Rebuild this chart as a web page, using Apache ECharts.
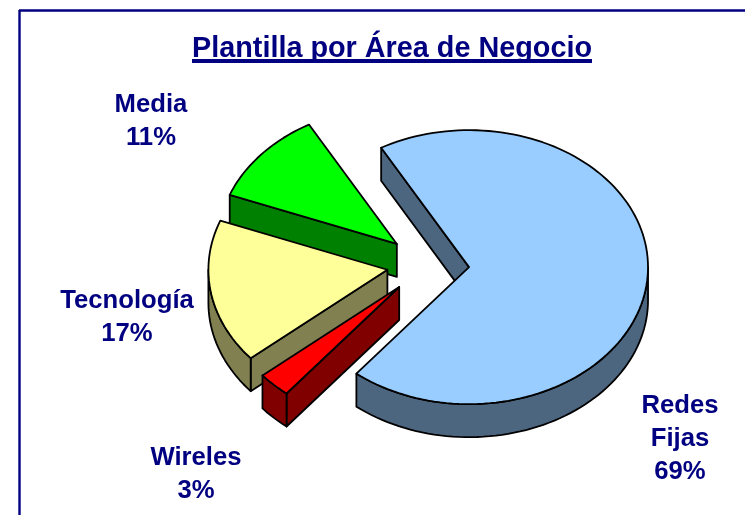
<!DOCTYPE html>
<html><head><meta charset="utf-8">
<style>html,body{margin:0;padding:0;background:#fff}#c{width:745px;height:515px}</style>
<script src="https://cdn.jsdelivr.net/npm/echarts@6/dist/echarts.min.js"></script>
</head><body><div id="c"></div>
<script>
const titleText = 'Plantilla por Área de Negocio';
const categories = ['Redes Fijas', 'Wireles', 'Tecnología', 'Media'];
const values = [69, 3, 17, 11];
const labelLines = [['Redes', 'Fijas', '69%'], ['Wireles', '3%'], ['Tecnología', '17%'], ['Media', '11%']];
const topColors = ['#99CCFF', '#FF0000', '#FFFF99', '#00FF00'];
const sideColors = ['#4D6680', '#800000', '#808050', '#008000'];
const labelAnchors = [[680, 406], [196, 458], [127, 301], [151, 105]];

const NAVY = '#000080';
const FONT = '"Liberation Sans", Arial, sans-serif';
const CX = 428, CY = 264.5, RX = 179, RY = 137, DEPTH = 33, EXPLODE = 0.23, START = -29.4;
const total = values.reduce((a, b) => a + b, 0);
let acc = START;
const slices = values.map((v, i) => {
  const a0 = acc, a1 = acc + v / total * 360; acc = a1;
  return { i, a0, a1 };
});
const rad = d => d * Math.PI / 180;
const rimPt = (o, a, dy) => [o[0] + RX * Math.sin(rad(a)), o[1] - RY * Math.cos(rad(a)) + (dy || 0)];
function arcPts(o, a0, a1, dy) {
  const n = Math.max(2, Math.ceil((a1 - a0) / 2)), pts = [];
  for (let k = 0; k <= n; k++) pts.push(rimPt(o, a0 + (a1 - a0) * k / n, dy));
  return pts;
}
function poly(points, fill) {
  return { type: 'polygon', shape: { points }, style: { fill, stroke: '#000', lineWidth: 1.8, lineJoin: 'round' } };
}
// Back-to-front: Media, Tecnología, Wireles, Redes Fijas
const paintOrder = [3, 2, 1, 0];

function renderSlice(params) {
  const s = slices[params.dataIndex], mid = (s.a0 + s.a1) / 2;
  const o = [CX + EXPLODE * RX * Math.sin(rad(mid)), CY - EXPLODE * RY * Math.cos(rad(mid))];
  const side = sideColors[s.i], faces = [];
  const face = (a) => { const r = rimPt(o, a);
    return poly([o, r, [r[0], r[1] + DEPTH], [o[0], o[1] + DEPTH]], side); };
  if (Math.sin(rad(s.a0)) < 0) faces.push(face(s.a0));
  if (Math.sin(rad(s.a1)) > 0) faces.push(face(s.a1));
  const f0 = Math.max(s.a0, 90), f1 = Math.min(s.a1, 270);
  if (f1 > f0) {
    faces.push(poly(arcPts(o, f0, f1).concat(arcPts(o, f0, f1, DEPTH).reverse()), side));
  }
  faces.push(poly([o].concat(arcPts(o, s.a0, s.a1)), topColors[s.i]));
  labelLines[s.i].forEach((t, k) => faces.push({
    type: 'text',
    style: { text: t, x: labelAnchors[s.i][0], y: labelAnchors[s.i][1] + k * 33, align: 'center', verticalAlign: 'middle',
      fill: NAVY, font: 'bold 25.7px ' + FONT }
  }));
  return { type: 'group', children: faces };
}
const seriesData = paintOrder.map(i => ({ name: categories[i], value: values[i] }));
const orderedSlices = paintOrder.map(i => slices[i]);
function render(params) {
  return renderSlice({ dataIndex: orderedSlices[params.dataIndex].i });
}
const chart = echarts.init(document.getElementById('c'), null, { renderer: 'canvas' });
chart.setOption({
  animation: false,
  backgroundColor: '#fff',
  title: { text: titleText, left: 392, top: 34.5, padding: 0, textAlign: 'center', textVerticalAlign: 'top',
    textStyle: { color: NAVY, fontFamily: FONT, fontWeight: 'bold', fontSize: 28.8 } },
  graphic: [
    { type: 'line', shape: { x1: 19, y1: 10.5, x2: 745, y2: 10.5 }, style: { stroke: NAVY, lineWidth: 2.4 } },
    { type: 'line', shape: { x1: 19.5, y1: 10, x2: 19.5, y2: 515 }, style: { stroke: NAVY, lineWidth: 2.4 } },
    { type: 'rect', shape: { x: 192, y: 59, width: 400, height: 4 }, style: { fill: NAVY } }
  ],
  series: [{ type: 'custom', coordinateSystem: 'none', renderItem: render, data: seriesData, silent: true }]
});
</script></body></html>
